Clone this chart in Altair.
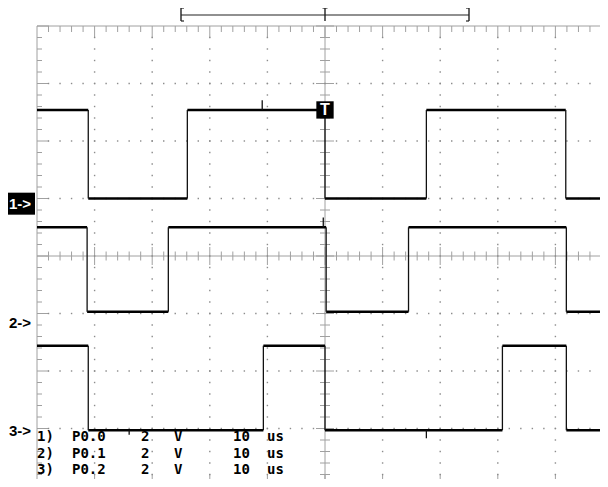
import altair as alt
import numpy as np
import pandas as pd

channels = ["1", "2", "3"]
marker_labels = ["1->", "2->", "3->"]
marker_active = [True, False, False]
ground_div = [0.91, -1.16, -3.05]          # channel ground markers (divisions)
high_div = [2.54, 0.50, -1.56]             # logic-high level (divisions)
low_div = [1.00, -0.97, -3.03]             # logic-low level (divisions)
start_high = [True, True, True]
edges_ch1 = [-41.1, -23.9, 0.0, 17.6, 41.8]    # transition times (us)
edges_ch2 = [-41.3, -27.2, 0.2, 14.5, 41.9]
edges_ch3 = [-41.1, -10.7, 0.0, 30.8, 41.9]

# short glitches: channel index, time (us), size (divisions)
glitch_ch = [0, 1, 2, 2]
glitch_t = [-10.9, -0.3, 17.6, -34.0]
glitch_d = [0.17, 0.17, -0.14, -0.08]

info_ch = ["1)", "2)", "3)"]
info_src = ["P0.0", "P0.1", "P0.2"]
info_vdiv = ["2", "2", "2"]
info_vunit = ["V", "V", "V"]
info_tdiv = ["10", "10", "10"]
info_tunit = ["us", "us", "us"]

trigger_label = "T"
window_start, window_end = -25.0, 25.0

# ---------------- layout ----------------
PX_X = 5.76           # px per us (57.6 px per division)
X_MIN = -50.0
W = 563
X_MAX = X_MIN + W / PX_X
Y_MIN, Y_MAX = -4.0, 4.0
H_FULL = 460          # full 8-division screen height
H_VIEW = 453          # what fits in the window
PX_Y = H_FULL / (Y_MAX - Y_MIN)
GRAY = "#a0a0a0"

xs = alt.Scale(domain=[X_MIN, X_MAX], nice=False, zero=False)
ys = alt.Scale(domain=[Y_MIN, Y_MAX], range=[H_FULL, 0], nice=False, zero=False)


def X(f):
    return alt.X(f, type="quantitative", scale=xs, axis=None)


def Y(f):
    return alt.Y(f, type="quantitative", scale=ys, axis=None)


# ---------------- graticule ----------------
minor_x = [v for v in np.arange(-50, 50.001, 2) if v <= X_MAX]
minor_y = list(np.arange(-4, 4.001, 0.2))
is_major = lambda v: abs(v - round(v / 10) * 10) < 1e-6
is_major_y = lambda v: abs(v - round(v)) < 1e-6

g = []
g.append(dict(x=X_MIN, x2=X_MAX, y=Y_MAX, y2=Y_MAX))
g.append(dict(x=X_MIN, x2=X_MAX, y=Y_MIN, y2=Y_MIN))
g.append(dict(x=X_MIN, x2=X_MIN, y=Y_MIN, y2=Y_MAX))
g.append(dict(x=0, x2=0, y=Y_MIN, y2=Y_MAX))
g.append(dict(x=X_MIN, x2=X_MAX, y=0, y2=0))
for v in minor_x:
    if v == X_MIN:
        continue
    L = 12 if is_major(v) else 6
    g.append(dict(x=v, x2=v, y=Y_MAX, y2=Y_MAX - L / PX_Y))
    g.append(dict(x=v, x2=v, y=Y_MIN, y2=Y_MIN + L / PX_Y))
    c = 9 if is_major(v) else 4.5
    g.append(dict(x=v, x2=v, y=-c / PX_Y, y2=c / PX_Y))
for v in minor_y:
    if v in (Y_MIN, Y_MAX):
        continue
    L = 12 if is_major_y(v) else 5
    g.append(dict(x=X_MIN, x2=X_MIN + L / PX_X, y=v, y2=v))
    c = 9 if is_major_y(v) else 5
    g.append(dict(x=-c / PX_X, x2=c / PX_X, y=v, y2=v))
grid_df = pd.DataFrame(g)

dots = []
for xm in range(-40, 50, 10):
    if xm == 0 or xm > X_MAX:
        continue
    for v in minor_y[1:-1]:
        dots.append(dict(x=xm, y=v))
for ym in range(-3, 4):
    if ym == 0:
        continue
    for v in minor_x[1:]:
        dots.append(dict(x=v, y=ym))
dots_df = pd.DataFrame(dots)

# ---------------- traces ----------------
hs, vs = [], []
for ch, edges, hi, lo, sh in zip(channels, [edges_ch1, edges_ch2, edges_ch3],
                                 high_div, low_div, start_high):
    bounds = [X_MIN] + edges + [X_MAX]
    lvl = sh
    for a, b in zip(bounds[:-1], bounds[1:]):
        y = hi if lvl else lo
        hs.append(dict(ch=ch, x=a, x2=b, y=y, y2=y))
        lvl = not lvl
    for e in edges:
        vs.append(dict(ch=ch, x=e, x2=e, y=lo, y2=hi))
for ci, t, d in zip(glitch_ch, glitch_t, glitch_d):
    edges = [edges_ch1, edges_ch2, edges_ch3][ci]
    n = sum(1 for e in edges if e <= t)
    high = start_high[ci] if n % 2 == 0 else not start_high[ci]
    base = high_div[ci] if high else low_div[ci]
    vs.append(dict(ch=channels[ci], x=t, x2=t, y=base, y2=base + d))
h_df = pd.DataFrame(hs)
v_df = pd.DataFrame(vs)

grid = alt.Chart(grid_df).mark_rule(color=GRAY, strokeWidth=1).encode(
    x=X("x"), x2="x2", y=Y("y"), y2="y2")
dot_layer = alt.Chart(dots_df).mark_square(color="#8c8c8c", size=2, opacity=1).encode(
    x=X("x"), y=Y("y"))
h_layer = alt.Chart(h_df).mark_rule(color="black", strokeWidth=2.4).encode(
    x=X("x"), x2="x2", y=Y("y"), y2="y2")
v_layer = alt.Chart(v_df).mark_rule(color="#111111", strokeWidth=1.3).encode(
    x=X("x"), x2="x2", y=Y("y"), y2="y2")

# ---------------- trigger window bar (above the screen) ----------------
bar_df = pd.DataFrame(dict(x=[window_start], x2=[window_end]))
bar = alt.Chart(bar_df).mark_rule(color="#222222", strokeWidth=1.2).encode(
    x=X("x"), x2="x2", y=alt.value(-11))
marks_df = pd.DataFrame(dict(x=[window_start, 0.0, window_end]))
bar_ticks = alt.Chart(marks_df).mark_rule(color="#222222", strokeWidth=1.4).encode(
    x=X("x"), y=alt.value(-18), y2=alt.value(-5))
serif_df = pd.DataFrame(dict(
    x=[window_start, window_start, window_end - 3 / PX_X, window_end - 3 / PX_X, -2.5 / PX_X],
    x2=[window_start + 3 / PX_X, window_start + 3 / PX_X, window_end, window_end, 2.5 / PX_X],
    yp=[-18, -5, -18, -5, -18]))
serifs = alt.Chart(serif_df).mark_rule(color="#222222", strokeWidth=1.2).encode(
    x=X("x"), x2="x2", y=alt.Y("yp:Q", scale=None, axis=None))

# ---------------- trigger marker ----------------
trig_df = pd.DataFrame(dict(x=[0.0], y=[high_div[0]], t=[trigger_label]))
trig_box = alt.Chart(trig_df).mark_square(color="black", size=300, opacity=1).encode(
    x=X("x"), y=Y("y"))
trig_txt = alt.Chart(trig_df).mark_text(color="white", font="Liberation Sans", fontWeight="bold",
                                        fontSize=16, baseline="middle", align="center").encode(
    x=X("x"), y=Y("y"), text="t:N")

# ---------------- channel ground markers ----------------
mk_df = pd.DataFrame(dict(label=marker_labels, y=ground_div, active=marker_active))
mk_df["y0"] = mk_df["y"] - 11 / PX_Y
mk_df["y1"] = mk_df["y"] + 11 / PX_Y
mk_box = alt.Chart(mk_df[mk_df.active]).mark_rect(color="black").encode(
    x=alt.value(-29), x2=alt.value(-2), y=Y("y0"), y2="y1")
mk_txt = alt.Chart(mk_df).mark_text(font="Liberation Sans", fontWeight="bold", fontSize=15,
                                    align="left", baseline="middle").encode(
    x=alt.value(-28), y=Y("y"), text="label:N",
    color=alt.condition("datum.active", alt.value("white"), alt.value("black")))

# ---------------- info text ----------------
info_df = pd.DataFrame(dict(c1=info_ch, c2=info_src, c3=info_vdiv, c4=info_vunit,
                            c5=info_tdiv, c6=info_tunit))
info_df["yp"] = 415 + 16.5 * np.arange(len(info_df))
col_px = [0, 35, 104, 137, 196, 230]
info_layers = []
for col, px in zip(["c1", "c2", "c3", "c4", "c5", "c6"], col_px):
    info_layers.append(
        alt.Chart(info_df).mark_text(font="DejaVu Sans Mono", fontWeight="bold", fontSize=14,
                                     align="left", baseline="alphabetic", color="black").encode(
            x=alt.value(px), y=alt.Y("yp:Q", scale=None, axis=None), text=f"{col}:N"))

chart = alt.layer(
    grid, dot_layer, h_layer, v_layer, bar, bar_ticks, serifs,
    trig_box, trig_txt, mk_box, mk_txt, *info_layers
).properties(
    width=W, height=H_VIEW,
    padding={"left": 29, "top": 18, "right": 0, "bottom": 0},
    autosize=alt.AutoSizeParams(type="none"),
    background="white",
).configure_view(stroke=None)

chart.save("out.html", embed_options={"renderer": "svg", "actions": False})
